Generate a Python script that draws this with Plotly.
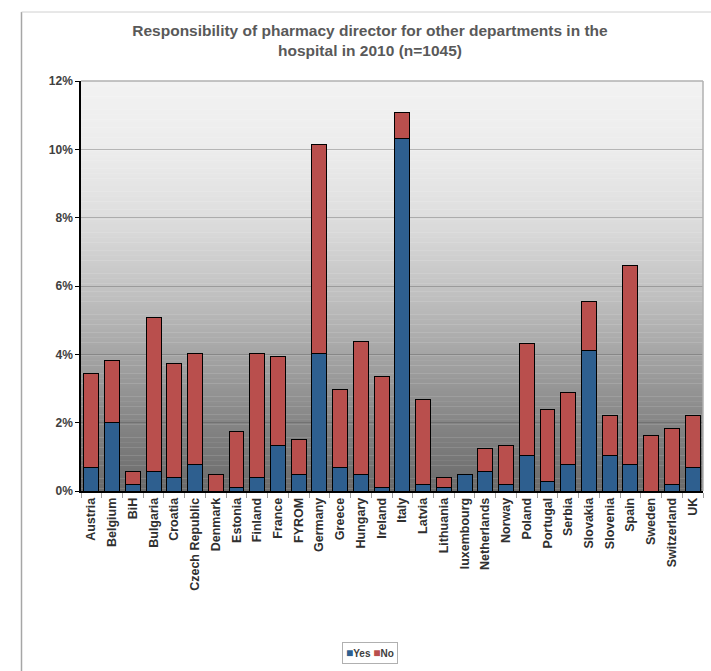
import plotly.graph_objects as go

countries = ["Austria", "Belgium", "BiH", "Bulgaria", "Croatia", "Czech Republic",
             "Denmark", "Estonia", "Finland", "France", "FYROM", "Germany", "Greece",
             "Hungary", "Ireland", "Italy", "Latvia", "Lithuania", "luxembourg",
             "Netherlands", "Norway", "Poland", "Portugal", "Serbia", "Slovakia",
             "Slovenia", "Spain", "Sweden", "Switzerland", "UK"]

# percent of respondents (n=1045)
yes_pct = [0.68, 2.00, 0.19, 0.57, 0.39, 0.77, 0.00, 0.10, 0.39, 1.34, 0.48, 4.02, 0.68,
           0.48, 0.10, 10.33, 0.19, 0.10, 0.48, 0.58, 0.19, 1.05, 0.28, 0.77, 4.12,
           1.05, 0.77, 0.00, 0.19, 0.68]
total_pct = [3.44, 3.82, 0.57, 5.07, 3.73, 4.02, 0.48, 1.73, 4.02, 3.93, 1.52, 10.14, 2.97,
             4.39, 3.35, 11.08, 2.69, 0.39, 0.48, 1.24, 1.34, 4.31, 2.39, 2.87, 5.56,
             2.20, 6.60, 1.63, 1.82, 2.20]
no_pct = [round(t - y, 2) for t, y in zip(total_pct, yes_pct)]

yes_frac = [v / 100 for v in yes_pct]
no_frac = [v / 100 for v in no_pct]

W, H = 711, 671
ML, MR, MT, MB = 81, 8, 81, 180
PW, PH = W - ML - MR, H - MT - MB

def px_x(px):
    return (px - ML) / PW

def px_y(py):
    return (H - MB - py) / PH

BLUE = "#2e5f8f"
RED = "#b94f4d"
FONT = "Liberation Sans, Arial, sans-serif"

fig = go.Figure()
fig.add_trace(go.Bar(x=countries, y=yes_frac, name="Yes", marker_color=BLUE,
                     marker_line=dict(color="black", width=1)))
fig.add_trace(go.Bar(x=countries, y=no_frac, name="No", marker_color=RED,
                     marker_line=dict(color="black", width=1)))

# background vertical gradient (decoration)
stops = [(0.0, 242), (0.17, 236), (0.33, 222), (0.5, 196), (0.67, 164), (0.83, 134), (1.0, 106)]

def grey_at(t):
    for (t0, c0), (t1, c1) in zip(stops[:-1], stops[1:]):
        if t0 <= t <= t1:
            return c0 + (c1 - c0) * (t - t0) / (t1 - t0)
    return stops[-1][1]

shapes = []
N = 160
for i in range(N):
    t = (i + 0.5) / N
    g = int(round(grey_at(t)))
    shapes.append(dict(type="rect", xref="paper", yref="paper", x0=0, x1=1,
                       y0=1 - (i + 1) / N - 0.001, y1=1 - i / N,
                       fillcolor=f"rgb({g},{g},{g})", line_width=0, layer="below"))
# plot border top/right
shapes.append(dict(type="line", xref="paper", yref="paper", x0=0, x1=1, y0=1, y1=1,
                   line=dict(color="#b0b0b0", width=1.5)))
shapes.append(dict(type="line", xref="paper", yref="paper", x0=1, x1=1, y0=0, y1=1,
                   line=dict(color="#b0b0b0", width=1.5)))
# outer chart frame
shapes.append(dict(type="line", xref="paper", yref="paper", x0=px_x(21.5), x1=px_x(21.5),
                   y0=px_y(680), y1=px_y(12), line=dict(color="#a6a6a6", width=1.5)))
shapes.append(dict(type="line", xref="paper", yref="paper", x0=px_x(21.5), x1=px_x(720),
                   y0=px_y(12), y1=px_y(12), line=dict(color="#d0d0d0", width=1)))

legend_text = (f"<b><span style='color:{BLUE};font-size:12px'>■</span>Yes "
               f"<span style='color:{RED};font-size:12px'>■</span>No</b>")

fig.update_layout(
    width=W, height=H,
    margin=dict(l=ML, r=MR, t=MT, b=MB),
    paper_bgcolor="white",
    plot_bgcolor="rgba(0,0,0,0)",
    barmode="stack",
    bargap=0.28,
    showlegend=False,
    font=dict(family=FONT, color="#404040"),
    title=dict(text="Responsibility of pharmacy director for other departments in the<br>hospital in 2010 (n=1045)",
               x=370 / W, xanchor="center", y=1 - 36 / H, yanchor="top", yref="container",
               font=dict(family=FONT, size=15.5, weight="bold", color="#595959")),
    xaxis=dict(showline=True, linecolor="black", linewidth=1.5, ticks="outside",
               tickson="boundaries", ticklen=5, tickcolor="#a0a0a0", tickangle=-90,
               tickfont=dict(family=FONT, size=12.5, weight="bold", color="#303030"),
               showgrid=False),
    yaxis=dict(range=[0, 0.12], dtick=0.02, tickformat=".0%", showline=True,
               linecolor="black", linewidth=1.5, ticks="outside", ticklen=4,
               tickcolor="black", gridcolor="rgba(80,80,80,0.35)", gridwidth=1,
               zeroline=False,
               tickfont=dict(family=FONT, size=12, weight="bold", color="#404040")),
    shapes=shapes,
    annotations=[dict(text=legend_text, xref="paper", yref="paper",
                      x=px_x(370), y=px_y(652.5), xanchor="center", yanchor="middle",
                      showarrow=False, font=dict(family=FONT, size=10, color="#404040"),
                      bordercolor="#b0b0b0", borderwidth=1, borderpad=3,
                      bgcolor="white")],
)

fig.write_html("out.html", config={"displayModeBar": False},
               post_script="document.body.style.margin='0';")
